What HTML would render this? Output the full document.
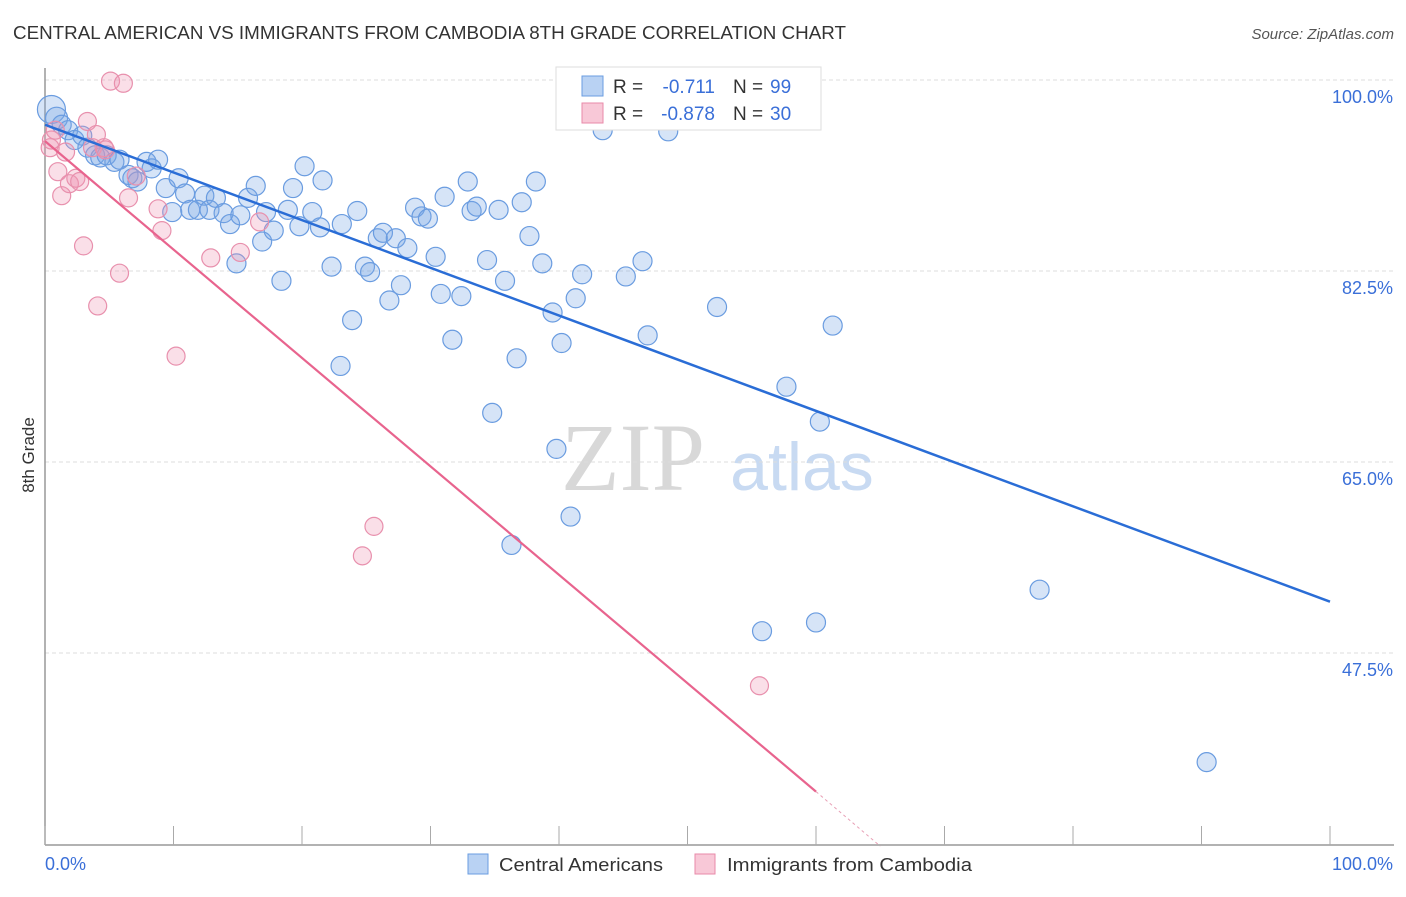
<!DOCTYPE html>
<html><head><meta charset="utf-8"><style>
body{margin:0;background:#fff;font-family:"Liberation Sans",sans-serif}
svg text{font-family:"Liberation Sans",sans-serif}
</style></head><body>
<svg id="chart" width="1406" height="892" viewBox="0 0 1406 892" xmlns="http://www.w3.org/2000/svg">
<text x="13" y="39" font-size="18" fill="#333" textLength="833" lengthAdjust="spacingAndGlyphs">CENTRAL AMERICAN VS IMMIGRANTS FROM CAMBODIA 8TH GRADE CORRELATION CHART</text>
<text x="1394" y="39" font-size="15" fill="#555" text-anchor="end" font-style="italic">Source: ZipAtlas.com</text>
<g>
<text x="633" y="490" font-size="96" fill="#d8d8d8" text-anchor="middle" font-family="Liberation Serif" style="font-family:'Liberation Serif',serif">ZIP</text>
<text x="802" y="490" font-size="68" fill="#c8daf2" text-anchor="middle">atlas</text>
</g>
<g id="grid"></g>
<g id="axes"></g>
<g id="marks"></g>
<g id="lines"></g>
<text transform="translate(34,455) rotate(-90)" font-size="17" fill="#333" text-anchor="middle">8th Grade</text>
<g>
<rect x="556" y="67" width="265" height="63" fill="#fff" stroke="#ddd"/>
<rect x="582" y="76" width="21" height="20" fill="#b9d2f3" stroke="#6a9ce0"/>
<rect x="582" y="103" width="21" height="20" fill="#f8c8d7" stroke="#e88aa8"/>
<text x="613" y="93" font-size="19" fill="#333">R =</text>
<text x="715" y="93" font-size="19" fill="#3a6fd8" text-anchor="end">-0.711</text>
<text x="733" y="93" font-size="19" fill="#333">N =</text>
<text x="770" y="93" font-size="19" fill="#3a6fd8">99</text>
<text x="613" y="120" font-size="19" fill="#333">R =</text>
<text x="715" y="120" font-size="19" fill="#3a6fd8" text-anchor="end">-0.878</text>
<text x="733" y="120" font-size="19" fill="#333">N =</text>
<text x="770" y="120" font-size="19" fill="#3a6fd8">30</text>
</g>
<g>
<rect x="468" y="854" width="20" height="20" fill="#b9d2f3" stroke="#6a9ce0"/>
<text x="499" y="871" font-size="18.5" fill="#333" textLength="164" lengthAdjust="spacingAndGlyphs">Central Americans</text>
<rect x="695" y="854" width="20" height="20" fill="#f8c8d7" stroke="#e88aa8"/>
<text x="727" y="871" font-size="18.5" fill="#333" textLength="245" lengthAdjust="spacingAndGlyphs">Immigrants from Cambodia</text>
</g>
</svg>
<script>
const yTicks=[100,82.5,65,47.5];
const yTickLabels=["100.0%","82.5%","65.0%","47.5%"];
const xTicks=[0,10,20,30,40,50,60,70,80,90,100];
const blueX=[0.5,0.9,1.3,1.8,2.3,2.9,3.3,3.9,4.3,4.8,5.4,5.8,6.5,6.8,7.2,7.9,8.3,8.8,9.4,9.9,10.4,10.9,11.3,11.9,12.4,12.8,13.3,13.9,14.4,14.9,15.2,15.8,16.4,16.9,17.2,17.8,18.4,18.9,19.3,19.8,20.2,20.8,21.4,21.6,22.3,23.1,23.9,24.3,23.0,24.9,25.3,25.9,26.3,26.8,27.3,27.7,28.2,28.8,29.3,29.8,30.4,30.8,31.1,31.7,32.4,32.9,33.2,33.6,34.4,34.8,35.3,35.8,36.7,37.1,37.7,38.2,38.7,39.5,39.8,40.2,40.9,41.3,41.8,43.4,45.2,46.5,46.9,48.5,49.0,52.3,55.8,57.7,60.0,60.3,61.3,77.4,90.4,36.3];
const blueY=[97.3,96.5,95.9,95.4,94.5,94.9,93.8,93.1,92.9,93.1,92.5,92.7,91.3,91.0,90.7,92.5,91.9,92.7,90.1,87.9,91.0,89.6,88.1,88.1,89.4,88.1,89.2,87.8,86.8,83.2,87.6,89.2,90.3,85.2,87.9,86.2,81.6,88.1,90.1,86.6,92.1,87.9,86.5,90.8,82.9,86.8,78.0,88.0,73.8,82.9,82.4,85.5,86.0,79.8,85.5,81.2,84.6,88.3,87.5,87.3,83.8,80.4,89.3,76.2,80.2,90.7,88.0,88.4,83.5,69.5,88.1,81.6,74.5,88.8,85.7,90.7,83.2,78.7,66.2,75.9,60.0,80.0,82.2,95.4,82.0,83.4,76.6,95.3,99.8,79.2,49.5,71.9,50.3,68.7,77.5,53.3,37.5,57.4];
const pinkX=[5.1,6.1,0.4,0.5,0.8,1.0,1.3,1.6,1.9,2.4,2.7,3.0,3.3,3.7,4.0,4.1,4.6,4.7,5.8,6.5,7.1,8.8,9.1,10.2,12.9,15.2,16.7,24.7,25.6,55.6];
const pinkY=[99.9,99.7,93.8,94.5,95.4,91.6,89.4,93.4,90.5,91.0,90.7,84.8,96.2,93.8,95.0,79.3,93.8,93.6,82.3,89.2,91.2,88.2,86.2,74.7,83.7,84.2,87.0,56.4,59.1,44.5];
const blueTrend=[[0,95.9],[100,52.2]];
const pinkTrendSolid=[[0,94.4],[60,34.8]];
const pinkTrendDash=[[60,34.8],[65,29.8]];

const NS="http://www.w3.org/2000/svg";
const X0=45,X1=1330,Y100=80,PXPER=191/17.5;
function sx(v){return X0+(X1-X0)*v/100;}
function sy(v){return Y100+(100-v)*PXPER;}
function mk(tag,attrs,parent){const e=document.createElementNS(NS,tag);for(const k in attrs)e.setAttribute(k,attrs[k]);parent.appendChild(e);return e;}
const grid=document.getElementById('grid'),axes=document.getElementById('axes'),marks=document.getElementById('marks'),lines=document.getElementById('lines');
yTicks.forEach((t,i)=>{
 const l=mk('line',{x1:X0,x2:1394,y1:sy(t),y2:sy(t),stroke:'#ddd','stroke-dasharray':'4,3'},grid);
 
 
 const tx=mk('text',{x:1393,y:sy(t)+23,'font-size':18,fill:'#3a6fd8','text-anchor':'end'},grid);
 tx.textContent=yTickLabels[i];
 
 
});
const ya=mk('line',{x1:X0,x2:X0,y1:68,y2:845,stroke:'#999','stroke-width':1.5},axes);


const xa=mk('line',{x1:X0,x2:1394,y1:845,y2:845,stroke:'#999','stroke-width':1.5},axes);


xTicks.forEach(t=>{
 const l=mk('line',{x1:sx(t),x2:sx(t),y1:826,y2:845,stroke:'#aaa'},axes);
 
 
});
const xl0=mk('text',{x:45,y:870,'font-size':18,fill:'#3a6fd8'},axes);xl0.textContent='0.0%';


const xl1=mk('text',{x:1393,y:870,'font-size':18,fill:'#3a6fd8','text-anchor':'end'},axes);xl1.textContent='100.0%';


blueX.forEach((v,i)=>{
 const r=i===0?14:(i===1?11:9.5);
 const c=mk('circle',{cx:sx(v),cy:sy(blueY[i]),r:r,fill:'rgba(120,165,230,0.3)',stroke:'#6a9ce0','stroke-width':1.2},marks);
 
 
});
pinkX.forEach((v,i)=>{
 const c=mk('circle',{cx:sx(v),cy:sy(pinkY[i]),r:9,fill:'rgba(240,150,180,0.3)',stroke:'#e890ad','stroke-width':1.2},marks);
 
 
});
const bl=mk('line',{x1:sx(blueTrend[0][0]),y1:sy(blueTrend[0][1]),x2:sx(blueTrend[1][0]),y2:sy(blueTrend[1][1]),stroke:'#2a6dd6','stroke-width':2.5},lines);


const pl=mk('line',{x1:sx(pinkTrendSolid[0][0]),y1:sy(pinkTrendSolid[0][1]),x2:sx(pinkTrendSolid[1][0]),y2:sy(pinkTrendSolid[1][1]),stroke:'#e8648e','stroke-width':2.2},lines);


const pd=mk('line',{x1:sx(pinkTrendDash[0][0]),y1:sy(pinkTrendDash[0][1]),x2:sx(pinkTrendDash[1][0]),y2:sy(pinkTrendDash[1][1]),stroke:'#e8a0b6','stroke-width':1,'stroke-dasharray':'3,3'},lines);


</script>
</body></html>
